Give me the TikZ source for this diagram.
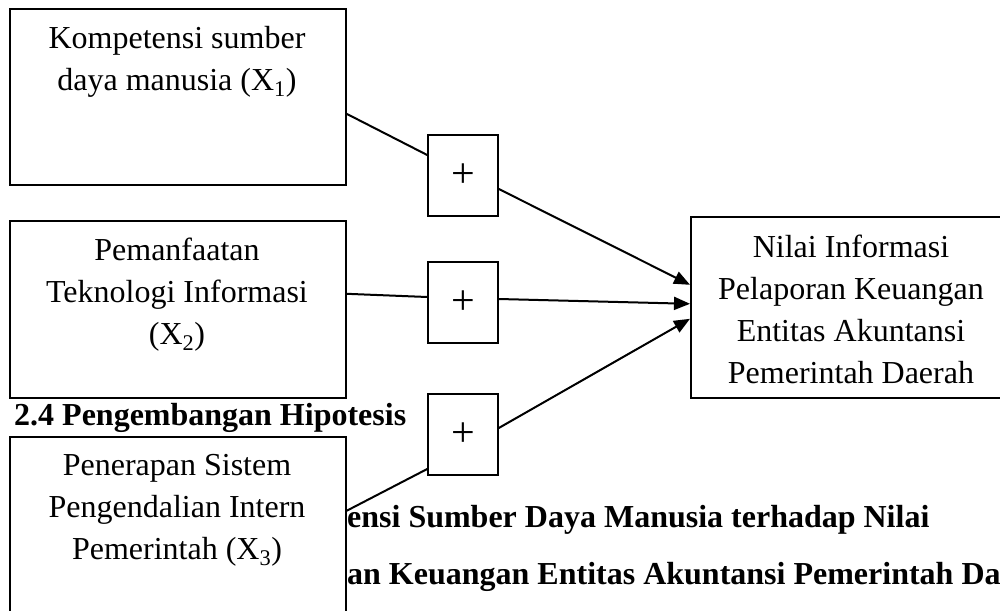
\documentclass[tikz,border=0pt]{standalone}
\usepackage{fontspec}
\setmainfont{Liberation Serif}
\usetikzlibrary{arrows.meta}
\tikzset{
  box/.style={draw=black, line width=1.6pt, fill=white, rectangle, inner sep=0pt},
  pbox/.style={draw=black, line width=1.6pt, fill=white, rectangle, inner sep=0pt,
    minimum width=70pt, minimum height=81pt, font=\fontsize{42}{42}\selectfont},
  txt/.style={align=center, inner sep=0pt, font=\fontsize{32}{42}\selectfont},
  btxt/.style={inner sep=0pt, font=\fontsize{32}{42}\selectfont\bfseries},
  conn/.style={draw=black, line width=2pt},
  arr/.style={conn, -{Triangle[length=16pt,width=13pt]}}
}
\begin{document}
\begin{tikzpicture}[x=1pt, y=-1pt]
\useasboundingbox (0,0) rectangle (1000,610);
\clip (0,0) rectangle (1000,610);
\fill[white] (0,0) rectangle (1000,610);

% bold running text (partly hidden)
\node[btxt, anchor=base west] (h1) at (14,425) {2.4 Pengembangan Hipotesis};
\node[btxt, anchor=base west] (h2) at (336.3,527) {tensi Sumber Daya Manusia terhadap Nilai};
\node[btxt, anchor=base west] (h3) at (347,584) {an Keuangan Entitas Akuntansi Pemerintah Da};

% boxes
\node[box, anchor=north west, minimum width=336pt, minimum height=176pt] (b1) at (9,8) {};
\node[box, anchor=north west, minimum width=336pt, minimum height=177pt] (b2) at (9,220) {};
\node[box, anchor=north west, minimum width=336pt, minimum height=204pt] (b3) at (9,436) {};
\node[box, anchor=north west, minimum width=322pt, minimum height=181pt] (tg) at (690,216) {};

\node[txt, anchor=north] (t1) at (177,18) {\rule{0pt}{30pt}Kompetensi sumber\\daya manusia (X\textsubscript{1})};
\node[txt, anchor=north] (t2) at (177,230) {\rule{0pt}{30pt}Pemanfaatan\\Teknologi Informasi\\(X\textsubscript{2})};
\node[txt, anchor=north] (t3) at (177,445) {\rule{0pt}{30pt}Penerapan Sistem\\Pengendalian Intern\\Pemerintah (X\textsubscript{3})};
\node[txt, anchor=north] (t4) at (851,227) {\rule{0pt}{30pt}Nilai Informasi\\Pelaporan Keuangan\\Entitas Akuntansi\\Pemerintah Daerah};

% plus boxes
\node[pbox] (pa) at (463,175.5) {+};
\node[pbox] (pb) at (463,302.5) {+};
\node[pbox] (pc) at (463,434.5) {+};

% connectors
\draw[conn] ([yshift=-17pt]b1.east) -- ([yshift=20.5pt]pa.west);
\draw[arr] ([yshift=-13.5pt]pa.east) -- ([yshift=22.5pt]tg.west);
\draw[conn] ([yshift=15.5pt]b2.east) -- ([yshift=5.5pt]pb.west);
\draw[arr] ([yshift=3.5pt]pb.east) -- ([yshift=3.5pt]tg.west);
\draw[conn] ([yshift=28pt]b3.east) -- ([yshift=-34.5pt]pc.west);
\draw[arr] ([yshift=6.5pt]pc.east) -- ([yshift=-11.5pt]tg.west);
\end{tikzpicture}
\end{document}
